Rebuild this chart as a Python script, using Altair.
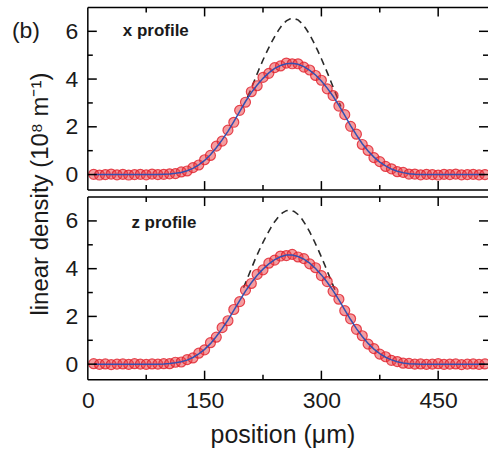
import altair as alt
import pandas as pd

# ---------------- data ----------------
position_um = [7.5, 15, 22.5, 30, 37.5, 45, 52.5, 60, 67.5, 75, 82.5, 90,
               97.5, 105, 112.5, 120, 127.5, 135, 142.5, 150, 157.5, 165,
               172.5, 180, 187.5, 195, 202.5, 210, 217.5, 225, 232.5, 240,
               247.5, 255, 262.5, 270, 277.5, 285, 292.5, 300, 307.5, 315,
               322.5, 330, 337.5, 345, 352.5, 360, 367.5, 375, 382.5, 390,
               397.5, 405, 412.5, 420,
               427.5, 435, 442.5, 450, 457.5, 465, 472.5, 480, 487.5, 495, 502.5, 510]

x_profile_data = [0.01, -0.02, 0.00, 0.02, -0.01, 0.01, -0.02, 0.00, 0.01, -0.01, 0.02, 0.00,
                  0.01, 0.03, 0.04, 0.11, 0.15, 0.29, 0.40, 0.62, 0.80, 1.19,
                  1.40, 1.86, 2.19, 2.69, 3.03, 3.47, 3.72, 4.07, 4.24, 4.48,
                  4.55, 4.67, 4.64, 4.64, 4.50, 4.38, 4.15, 3.95, 3.59, 3.31,
                  2.87, 2.51, 2.02, 1.69, 1.26, 1.01, 0.71, 0.54, 0.34, 0.24,
                  0.12, 0.09, 0.02, 0.02,
                  -0.01, 0.01, 0.00, -0.02, 0.01, 0.00, 0.02, -0.01, 0.00, 0.01, -0.01, 0.00]

x_profile_fit = [0, 0, 0, 0, 0, 0, 0, 0, 0, 0, 0, 0,
                 0.01, 0.02, 0.05, 0.09, 0.16, 0.26, 0.41, 0.59, 0.83, 1.12,
                 1.45, 1.81, 2.22, 2.64, 3.06, 3.43, 3.75, 4.03, 4.26, 4.45,
                 4.57, 4.64, 4.66, 4.62, 4.52, 4.36, 4.17, 3.92, 3.62, 3.28,
                 2.90, 2.48, 2.05, 1.66, 1.29, 0.99, 0.73, 0.52, 0.36, 0.23,
                 0.14, 0.08, 0.03, 0.01,
                 0, 0, 0, 0, 0, 0, 0, 0, 0, 0, 0, 0]

z_profile_data = [0.02, -0.01, 0.01, -0.02, 0.00, 0.01, -0.01, 0.02, 0.00, -0.01, 0.01, 0.00,
                  0.02, 0.02, 0.08, 0.09, 0.19, 0.26, 0.46, 0.60, 0.90, 1.13,
                  1.53, 1.82, 2.29, 2.62, 3.10, 3.38, 3.76, 3.95, 4.23, 4.36,
                  4.53, 4.55, 4.60, 4.49, 4.42, 4.20, 4.04, 3.71, 3.46, 3.05,
                  2.72, 2.24, 1.90, 1.46, 1.19, 0.84, 0.65, 0.42, 0.31, 0.16,
                  0.11, 0.04, 0.03, 0.00,
                  0.01, -0.01, 0.00, 0.02, -0.01, 0.00, 0.01, -0.02, 0.00, 0.01, -0.01, 0.01]

z_profile_fit = [0, 0, 0, 0, 0, 0, 0, 0, 0, 0, 0, 0,
                 0.01, 0.03, 0.06, 0.10, 0.17, 0.28, 0.43, 0.62, 0.86, 1.16,
                 1.49, 1.85, 2.25, 2.66, 3.06, 3.41, 3.72, 3.98, 4.20, 4.38,
                 4.50, 4.57, 4.57, 4.51, 4.40, 4.23, 4.01, 3.74, 3.43, 3.08,
                 2.69, 2.27, 1.87, 1.49, 1.16, 0.87, 0.63, 0.44, 0.29, 0.18,
                 0.10, 0.05, 0.02, 0.01,
                 0, 0, 0, 0, 0, 0, 0, 0, 0, 0, 0, 0]

x_dashed_pos = [205, 210, 215, 220, 225, 230, 235, 240, 245, 250, 255, 260, 265,
                270, 275, 280, 285, 290, 295, 300, 305, 310, 315, 320, 325]
x_dashed_val = [3.25, 3.60, 4.02, 4.42, 4.80, 5.15, 5.48, 5.78, 6.05, 6.28, 6.44, 6.52, 6.53,
                6.48, 6.33, 6.12, 5.86, 5.55, 5.21, 4.85, 4.47, 4.08, 3.67, 3.26, 2.85]

z_dashed_pos = [200, 205, 210, 215, 220, 225, 230, 235, 240, 245, 250, 255, 260,
                265, 270, 275, 280, 285, 290, 295, 300, 305, 310, 315, 320]
z_dashed_val = [3.20, 3.60, 4.00, 4.40, 4.76, 5.10, 5.42, 5.71, 5.97, 6.18, 6.34, 6.43, 6.45,
                6.40, 6.27, 6.08, 5.83, 5.54, 5.21, 4.86, 4.49, 4.10, 3.70, 3.30, 2.90]

x_tick_labels = [0, 150, 300, 450]
x_major_ticks = [150, 300, 450]
x_minor_ticks = [75, 225, 375]
y_tick_labels = [0, 2, 4, 6]
y_major_ticks = [0, 2, 4, 6]
y_minor_ticks = [1, 3, 5]

panel_labels = ["x profile", "z profile"]
panel_label_x = [45, 56]
panel_label_y = [6.0, 5.9]

# ---------------- styling ----------------
W, H = 401, 183
XDOM = [0, 514]
YDOM = [-0.65, 7.0]
FONT = "Liberation Sans"
INK = "#1a1a1a"
MAJ, MIN = 9, 5


def panel(pts, fit, dpos, dval, label, lx, ly, bottom, first):
    df = pd.DataFrame({"x": position_um, "pts": pts, "fit": fit})
    dd = pd.DataFrame({"x": dpos, "y": dval})
    xs = alt.Scale(domain=XDOM, nice=False, zero=False)
    ys = alt.Scale(domain=YDOM, nice=False, zero=False)

    if bottom:
        xaxis = alt.Axis(values=x_tick_labels, title="position (μm)", ticks=False,
                         domain=False, grid=False, labelPadding=10, titlePadding=10,
                         labelFlush=False, titleX=195, titleFontSize=25)
    else:
        xaxis = None
    if first:
        yaxis = alt.Axis(values=y_tick_labels, ticks=False, domain=False, grid=False,
                         labelPadding=10, title="linear density (10⁸ m⁻¹)",
                         titleAngle=270, titleX=-47, titleY=H + 3.5,
                         titleAlign="center", titleBaseline="middle", titleFontSize=24)
    else:
        yaxis = alt.Axis(values=y_tick_labels, ticks=False, domain=False, grid=False,
                         labelPadding=10, title=None)

    def X(f):
        return alt.X(f, scale=xs, axis=xaxis)

    def Y(f):
        return alt.Y(f, scale=ys, axis=yaxis)

    dashed = alt.Chart(dd).mark_line(color="#2a2a2a", strokeWidth=1.6,
                                     strokeDash=[7, 5], clip=True).encode(
        x=X("x:Q"), y=Y("y:Q"))
    points = alt.Chart(df).mark_point(shape="circle", filled=True, size=100,
                                      fill="#ec3a3f", fillOpacity=0.5,
                                      stroke="#e01f2a", strokeOpacity=0.8,
                                      strokeWidth=1.2, clip=True).encode(
        x=X("x:Q"), y=Y("pts:Q"))
    fitline = alt.Chart(df).mark_line(color="#3550b0", strokeWidth=1.5, clip=True).encode(
        x=X("x:Q"), y=Y("fit:Q"))

    rule = dict(color="black", strokeWidth=1.5)
    t_bot_maj = alt.Chart(pd.DataFrame({"t": x_major_ticks})).mark_rule(**rule).encode(
        x=X("t:Q"), y=alt.value(H), y2=alt.value(H - MAJ))
    t_bot_min = alt.Chart(pd.DataFrame({"t": x_minor_ticks})).mark_rule(**rule).encode(
        x=X("t:Q"), y=alt.value(H), y2=alt.value(H - MIN))
    t_top_maj = alt.Chart(pd.DataFrame({"t": x_major_ticks})).mark_rule(**rule).encode(
        x=X("t:Q"), y=alt.value(0), y2=alt.value(MAJ))
    t_top_min = alt.Chart(pd.DataFrame({"t": x_minor_ticks})).mark_rule(**rule).encode(
        x=X("t:Q"), y=alt.value(0), y2=alt.value(MIN))
    t_l_maj = alt.Chart(pd.DataFrame({"t": y_major_ticks})).mark_rule(**rule).encode(
        y=Y("t:Q"), x=alt.value(0), x2=alt.value(MAJ))
    t_l_min = alt.Chart(pd.DataFrame({"t": y_minor_ticks})).mark_rule(**rule).encode(
        y=Y("t:Q"), x=alt.value(0), x2=alt.value(MIN))
    t_r_maj = alt.Chart(pd.DataFrame({"t": y_major_ticks})).mark_rule(**rule).encode(
        y=Y("t:Q"), x=alt.value(W), x2=alt.value(W - MAJ))
    t_r_min = alt.Chart(pd.DataFrame({"t": y_minor_ticks})).mark_rule(**rule).encode(
        y=Y("t:Q"), x=alt.value(W), x2=alt.value(W - MIN))

    one = pd.DataFrame({"a": [0]})
    b_left = alt.Chart(one).mark_rule(**rule).encode(
        x=alt.value(0), y=alt.value(0), y2=alt.value(H))
    b_top = alt.Chart(one).mark_rule(**rule).encode(
        x=alt.value(0), x2=alt.value(W), y=alt.value(0))
    b_bot = alt.Chart(one).mark_rule(**rule).encode(
        x=alt.value(0), x2=alt.value(W), y=alt.value(H))

    lab = alt.Chart(pd.DataFrame({"x": [lx], "y": [ly], "t": [label]})).mark_text(
        align="left", baseline="middle", fontSize=17, fontWeight="bold",
        font=FONT, color=INK).encode(
        x=X("x:Q"), y=Y("y:Q"), text="t:N")

    layers = [dashed, points, fitline, t_bot_maj, t_bot_min, t_top_maj, t_top_min,
              t_l_maj, t_l_min, t_r_maj, t_r_min, b_left, b_top, b_bot, lab]
    if first:
        blabel = alt.Chart(pd.DataFrame({"y": [6.0], "t": ["(b)"]})).mark_text(
            align="left", baseline="middle", fontSize=23, font=FONT, color=INK).encode(
            x=alt.value(-76), y=Y("y:Q"), text="t:N")
        layers.append(blabel)
    return alt.layer(*layers).properties(width=W, height=H)


top = panel(x_profile_data, x_profile_fit, x_dashed_pos, x_dashed_val,
            panel_labels[0], panel_label_x[0], panel_label_y[0], bottom=False, first=True)
bot = panel(z_profile_data, z_profile_fit, z_dashed_pos, z_dashed_val,
            panel_labels[1], panel_label_x[1], panel_label_y[1], bottom=True, first=False)

chart = alt.vconcat(top, bot, spacing=7, bounds="flush").properties(
    padding={"left": 12, "top": 6, "right": 0, "bottom": 0}
).configure_view(stroke=None).configure_axis(
    labelFont=FONT, titleFont=FONT, labelColor=INK, titleColor=INK,
    labelFontSize=23, titleFontSize=23, titleFontWeight="normal"
).configure_text(font=FONT)

chart.save("out.html", embed_options={"renderer": "svg", "actions": False})
